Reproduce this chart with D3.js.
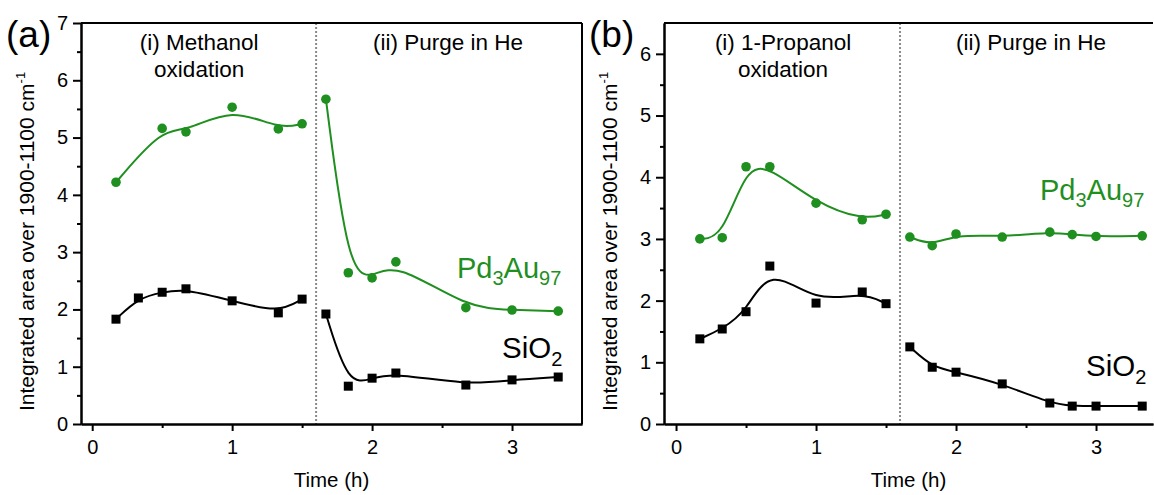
<!DOCTYPE html>
<html lang="en">
<head>
    <meta charset="UTF-8">
    <title>integrated area vs time</title>
    <script type="text/javascript" src="https://d3js.org/d3.v7.min.js"></script>
    <style>
        body { margin: 0; background: #fff; }
        text { font-family: "Liberation Sans", Arial, sans-serif; }
    </style>
</head>
<body>
<svg class="chart"></svg>

<script type="text/javascript">

    const width = 1154;
    const height = 495;

    const green = "#1f8f1f";

    // panel (a): methanol
    const timeA1 = [0.17, 0.33, 0.5, 0.67, 1.0, 1.33, 1.5];
    const sio2A1 = [1.83, 2.2, 2.3, 2.36, 2.15, 1.94, 2.18];
    const timeA1pd = [0.17, 0.5, 0.67, 1.0, 1.33, 1.5];
    const pdA1 = [4.22, 5.16, 5.1, 5.53, 5.15, 5.24];
    const timeA2 = [1.67, 1.83, 2.0, 2.17, 2.67, 3.0, 3.33];
    const pdA2 = [5.67, 2.64, 2.55, 2.83, 2.03, 1.99, 1.97];
    const sio2A2 = [1.92, 0.66, 0.8, 0.89, 0.68, 0.77, 0.82];

    // panel (b): 1-propanol
    const timeB1 = [0.17, 0.33, 0.5, 0.67, 1.0, 1.33, 1.5];
    const pdB1 = [3.0, 3.02, 4.17, 4.17, 3.58, 3.31, 3.4];
    const sio2B1 = [1.38, 1.54, 1.82, 2.56, 1.96, 2.14, 1.95];
    const timeB2 = [1.67, 1.83, 2.0, 2.33, 2.67, 2.83, 3.0, 3.33];
    const pdB2 = [3.03, 2.89, 3.08, 3.03, 3.11, 3.07, 3.04, 3.05];
    const sio2B2 = [1.25, 0.92, 0.84, 0.65, 0.34, 0.29, 0.29, 0.29];

    const xTicks = [0, 1, 2, 3];
    const xMinor = [0.5, 1.5, 2.5];
    const yTicksA = [0, 1, 2, 3, 4, 5, 6, 7];
    const yTicksB = [0, 1, 2, 3, 4, 5, 6];
    const switchTime = 1.6;

    let svg = d3.select(".chart")
        .attr("width", width)
        .attr("height", height);

    const zip = (xs, ys) => xs.map((x, i) => [x, ys[i]]);

    let panels = [
        {
            tag: "(a)", left: 81, right: 582, xDom: [-0.08, 3.5], yMax: 7, yTicks: yTicksA,
            frameRight: true,
            stage1: ["(i) Methanol", "oxidation"], stage2X: 448,
            series: [
                {pts: zip(timeA1pd, pdA1), color: green, mark: "circle"},
                {pts: zip(timeA2, pdA2), color: green, mark: "circle"},
                {pts: zip(timeA1, sio2A1), color: "#000", mark: "square"},
                {pts: zip(timeA2, sio2A2), color: "#000", mark: "square"}
            ],
            pdLabel: [457, 278], sioLabel: [502, 358]
        },
        {
            tag: "(b)", left: 664, right: 1153, xDom: [-0.086, 3.407], yMax: 6.5, yTicks: yTicksB,
            frameRight: false,
            stage1: ["(i) 1-Propanol", "oxidation"], stage2X: 1031,
            series: [
                {pts: zip(timeB1, pdB1), color: green, mark: "circle"},
                {pts: zip(timeB2, pdB2), color: green, mark: "circle"},
                {pts: zip(timeB1, sio2B1), color: "#000", mark: "square"},
                {pts: zip(timeB2, sio2B2), color: "#000", mark: "square"}
            ],
            pdLabel: [1040, 200], sioLabel: [1086, 376]
        }
    ];

    const plotTop = 23, plotBottom = 424;

    panels.forEach(p => drawPanel(p));

    function drawPanel(p) {
        let g = svg.append("g");

        let x = d3.scaleLinear().domain(p.xDom).range([p.left, p.right]);
        let y = d3.scaleLinear().domain([0, p.yMax]).range([plotBottom, plotTop]);

        // switch line between stages
        g.append("line")
            .attr("x1", x(switchTime)).attr("x2", x(switchTime))
            .attr("y1", plotTop).attr("y2", plotBottom)
            .attr("stroke", "#8a8a8a").attr("stroke-width", 2)
            .attr("stroke-dasharray", "2,2");

        // frame
        g.append("line")
            .attr("x1", p.left).attr("x2", p.right)
            .attr("y1", plotTop).attr("y2", plotTop)
            .attr("stroke", "#000").attr("stroke-width", 2);
        if (p.frameRight) {
            g.append("line")
                .attr("x1", p.right).attr("x2", p.right)
                .attr("y1", plotTop).attr("y2", plotBottom)
                .attr("stroke", "#000").attr("stroke-width", 2);
        }

        // axes
        g.append("g").attr("transform", `translate(0,${plotBottom})`)
            .call(d3.axisBottom(x).tickValues(xTicks).tickFormat(d3.format("d")).tickSize(7).tickSizeOuter(0).tickPadding(9));
        g.append("g").attr("transform", `translate(0,${plotBottom})`)
            .call(d3.axisBottom(x).tickValues(xMinor).tickFormat("").tickSize(4).tickSizeOuter(0));

        g.append("g").attr("transform", `translate(${p.left},0)`)
            .call(d3.axisLeft(y).tickValues(p.yTicks).tickFormat(d3.format("d")).tickSize(8).tickSizeOuter(0).tickPadding(5));
        let yMinor = d3.range(0.5, p.yMax, 1);
        g.append("g").attr("transform", `translate(${p.left},0)`)
            .call(d3.axisLeft(y).tickValues(yMinor).tickFormat("").tickSize(4).tickSizeOuter(0));

        g.selectAll(".domain").attr("stroke", "#000").attr("stroke-width", 2);
        g.selectAll(".tick line").attr("stroke", "#000").attr("stroke-width", 2);
        g.selectAll(".tick text").attr("font-size", 20).attr("fill", "#000")
            .style("font-family", "'Liberation Sans', Arial, sans-serif");

        // curves and markers
        let line = d3.line().x(d => x(d[0])).y(d => y(d[1])).curve(d3.curveBasis);

        p.series.forEach(s => {
            g.append("path")
                .attr("d", line(s.pts))
                .attr("fill", "none")
                .attr("stroke", s.color)
                .attr("stroke-width", 2);

            if (s.mark === "circle") {
                g.selectAll(null).data(s.pts).enter().append("circle")
                    .attr("cx", d => x(d[0]))
                    .attr("cy", d => y(d[1]))
                    .attr("r", 4.8)
                    .attr("fill", s.color);
            } else {
                g.selectAll(null).data(s.pts).enter().append("rect")
                    .attr("x", d => x(d[0]) - 4.5)
                    .attr("y", d => y(d[1]) - 4.5)
                    .attr("width", 9)
                    .attr("height", 9)
                    .attr("fill", s.color);
            }
        });

        // stage labels
        let c1 = (x(0) + x(switchTime)) / 2 - 5;
        g.append("text").attr("x", c1).attr("y", 50).attr("text-anchor", "middle")
            .attr("font-size", 22.5).text(p.stage1[0]);
        g.append("text").attr("x", c1).attr("y", 77).attr("text-anchor", "middle")
            .attr("font-size", 22.5).text(p.stage1[1]);
        g.append("text").attr("x", p.stage2X).attr("y", 50)
            .attr("text-anchor", "middle").attr("font-size", 22.5).text("(ii) Purge in He");

        // panel tag
        g.append("text").attr("x", p.left - 75).attr("y", 47)
            .attr("font-size", 37).text(p.tag);

        // series labels
        let pd = g.append("text").attr("x", p.pdLabel[0]).attr("y", p.pdLabel[1])
            .attr("font-size", 29).attr("fill", green);
        pd.append("tspan").text("Pd");
        pd.append("tspan").attr("font-size", 20).attr("dy", 7).text("3");
        pd.append("tspan").attr("dy", -7).text("Au");
        pd.append("tspan").attr("font-size", 20).attr("dy", 7).text("97");

        let si = g.append("text").attr("x", p.sioLabel[0]).attr("y", p.sioLabel[1])
            .attr("font-size", 29.5).attr("fill", "#000");
        si.append("tspan").text("SiO");
        si.append("tspan").attr("font-size", 20).attr("dy", 8).text("2");

        // axis titles
        let yl = g.append("text")
            .attr("transform", `translate(${p.left - 47},${(plotTop + plotBottom) / 2 + 18}) rotate(-90)`)
            .attr("text-anchor", "middle").attr("font-size", 21);
        yl.append("tspan").text("Integrated area over 1900-1100 cm");
        yl.append("tspan").attr("font-size", 13).attr("dy", -9).text("-1");

        g.append("text").attr("x", (p.left + p.right) / 2).attr("y", 487)
            .attr("text-anchor", "middle").attr("font-size", 20.5).text("Time (h)");
    }

</script>

</body>
</html>
